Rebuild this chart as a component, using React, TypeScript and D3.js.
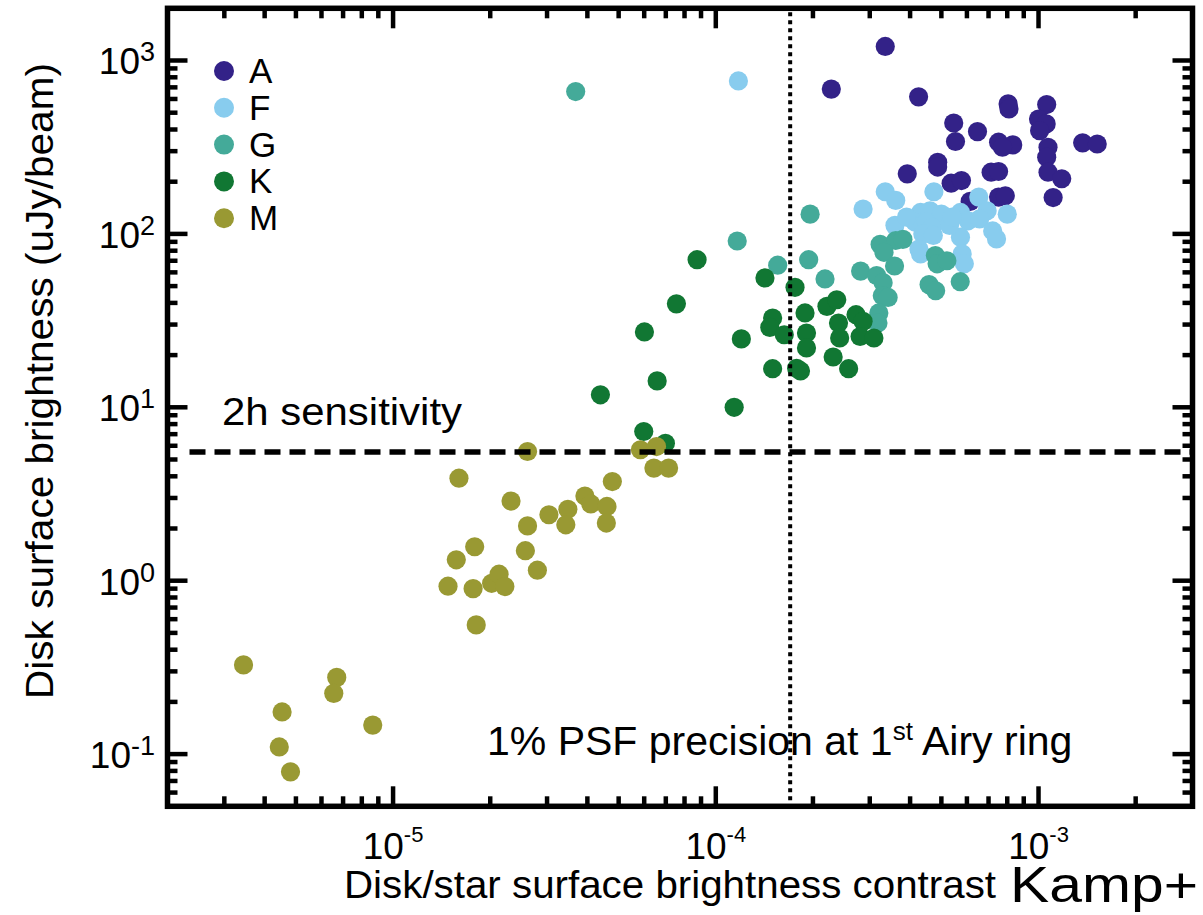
import React from "react";
import * as d3 from "d3";

type Pt = [number, number];

const seriesNames = ["A", "F", "G", "K", "M"];
const seriesColors = ["#332288", "#88CCEE", "#44AA99", "#117733", "#999933"];

const pointsA: Pt[] = [
  [3.35e-4, 1205], [2.28e-4, 684], [4.25e-4, 617], [8.05e-4, 562], [8.1e-4, 526],
  [1.06e-3, 557], [1.0e-3, 460], [1.056e-3, 431], [1.008e-3, 394], [5.46e-4, 436],
  [6.47e-4, 389], [5.53e-4, 341], [7.52e-4, 338], [8.32e-4, 326], [7.73e-4, 316],
  [1.37e-3, 335], [1.52e-3, 330], [1.07e-3, 316], [1.06e-3, 277], [4.87e-4, 259],
  [4.87e-4, 243], [3.92e-4, 222], [1.07e-3, 227], [1.18e-3, 208], [7.13e-4, 227],
  [7.52e-4, 229], [5.36e-4, 196], [5.77e-4, 203], [1.11e-3, 162], [7.52e-4, 163],
  [7.89e-4, 166], [6.14e-4, 154],
];

const pointsF: Pt[] = [
  [1.175e-4, 762], [3.35e-4, 175], [3.61e-4, 156], [2.86e-4, 139], [4.74e-4, 175],
  [6.53e-4, 163], [4.31e-4, 133], [4.61e-4, 136], [5.0e-4, 130], [5.73e-4, 133],
  [6.93e-4, 136], [8.0e-4, 130], [4.14e-4, 117], [4.49e-4, 117], [6.05e-4, 119],
  [6.57e-4, 122], [3.59e-4, 112], [4.68e-4, 109], [4.38e-4, 100], [4.72e-4, 98],
  [5.73e-4, 95.7], [7.21e-4, 104], [7.41e-4, 93.6], [4.26e-4, 81.8], [4.31e-4, 76.7],
  [5.8e-4, 76.7], [5.89e-4, 67.2], [3.9e-4, 125], [5.3e-4, 112], [5.4e-4, 125],
];

const pointsG: Pt[] = [
  [3.68e-5, 662], [1.96e-4, 130], [1.165e-4, 91], [1.555e-4, 66], [1.94e-4, 71],
  [2.18e-4, 55], [2.81e-4, 61], [3.23e-4, 87], [3.61e-4, 91.6], [3.8e-4, 93],
  [3.32e-4, 78.3], [3.58e-4, 65.3], [3.15e-4, 57.5], [3.3e-4, 52.3], [3.28e-4, 44],
  [3.42e-4, 43], [3.2e-4, 35], [3.18e-4, 30.6], [4.79e-4, 75], [4.85e-4, 67.2],
  [5.2e-4, 70], [4.58e-4, 51], [4.8e-4, 47], [5.72e-4, 53],
];

const pointsK: Pt[] = [
  [8.75e-5, 71], [1.42e-4, 55.7], [1.76e-4, 49.2], [7.55e-5, 39.5], [2.21e-4, 38.2],
  [2.37e-4, 41.7], [1.89e-4, 35], [2.72e-4, 34.2], [2.86e-4, 31.3], [2.4e-4, 30.6],
  [1.5e-4, 32.7], [1.47e-4, 28.9], [1.63e-4, 26.2], [1.91e-4, 26.8], [1.91e-4, 22],
  [2.42e-4, 25.1], [2.8e-4, 25.6], [3.09e-4, 25.1], [6.01e-5, 27.2], [1.2e-4, 24.8],
  [2.31e-4, 19.5], [1.5e-4, 16.7], [1.78e-4, 16.8], [1.83e-4, 16.2], [2.58e-4, 16.7],
  [6.58e-5, 14.2], [4.39e-5, 11.8], [1.14e-4, 10], [5.98e-5, 7.25], [6.98e-5, 6.2],
];

const pointsM: Pt[] = [
  [2.61e-5, 5.56], [1.6e-5, 3.9], [5.84e-5, 5.69], [6.55e-5, 5.94], [6.43e-5, 4.46],
  [7.14e-5, 4.46], [4.78e-5, 3.73], [2.32e-5, 2.88], [3.93e-5, 3.08], [4.1e-5, 2.77],
  [4.6e-5, 2.68], [4.58e-5, 2.15], [3.48e-5, 2.58], [3.43e-5, 2.1], [3.04e-5, 2.4],
  [2.61e-5, 2.07], [2.57e-5, 1.49], [2.8e-5, 1.15], [1.79e-5, 1.57], [1.57e-5, 1.32],
  [1.48e-5, 0.93], [1.77e-5, 0.9], [2.02e-5, 0.966], [2.13e-5, 1.09], [2.22e-5, 0.925],
  [1.81e-5, 0.556], [3.44e-6, 0.327], [6.69e-6, 0.277], [6.55e-6, 0.224], [4.53e-6, 0.175],
  [8.65e-6, 0.147], [4.44e-6, 0.11], [4.81e-6, 0.079],
];

const seriesPoints = [pointsA, pointsF, pointsG, pointsK, pointsM];

const xMajorTicks = [1e-5, 1e-4, 1e-3];
const xMajorExp = ["-5", "-4", "-3"];
const yMajorTicks = [0.1, 1, 10, 100, 1000];
const yMajorExp = ["-1", "0", "1", "2", "3"];

const xDomain: [number, number] = [2e-6, 3e-3];
const yDomain: [number, number] = [0.05, 2000];

const sensitivityLevel = 5.53;
const psfContrast = 1.7e-4;

const xTitle = "Disk/star surface brightness contrast";
const yTitle = "Disk surface brightness (uJy/beam)";
const credit = "Kamp+";
const sensLabel = "2h sensitivity";

const FONT = "'Liberation Sans', Arial, Helvetica, sans-serif";

export default function App() {
  const W = 1203;
  const H = 915;
  const L = 167.5, R = 1192.5, T = 8.3, B = 806.3;
  const x = d3.scaleLog().domain(xDomain).range([L, R]);
  const y = d3.scaleLog().domain(yDomain).range([B, T]);

  const isMajor = (v: number) => Math.abs(Math.log10(v) - Math.round(Math.log10(v))) < 1e-9;
  const xt = x.ticks().filter((v) => x(v) > L + 1 && x(v) < R - 1);
  const yt = y.ticks().filter((v) => y(v) > T + 1 && y(v) < B - 1);
  const tw = 4.5;
  const maj = 20, mnr = 10;

  return (
    <svg width={W} height={H} style={{ position: "absolute", left: 0, top: 0, background: "#fff" }} fontFamily={FONT}>
      <rect x={0} y={0} width={W} height={H} fill="#fff" />
      {seriesPoints.map((pts, si) => (
        <g key={seriesNames[si]} fill={seriesColors[si]}>
          {pts.map((p, i) => (
            <circle key={i} cx={x(p[0])} cy={y(p[1])} r={9.6} />
          ))}
        </g>
      ))}
      <line x1={x(psfContrast)} x2={x(psfContrast)} y1={T + 4} y2={B - 4} stroke="#000" strokeWidth={4} strokeDasharray="4 4" />
      <line x1={L + 22} x2={R} y1={y(sensitivityLevel)} y2={y(sensitivityLevel)} stroke="#000" strokeWidth={5.5} strokeDasharray="16 9" />
      <g stroke="#000" strokeWidth={tw}>
        {xt.map((v, i) => {
          const len = isMajor(v) ? maj : mnr;
          return (
            <g key={"x" + i}>
              <line x1={x(v)} x2={x(v)} y1={B} y2={B - len} />
              <line x1={x(v)} x2={x(v)} y1={T} y2={T + len} />
            </g>
          );
        })}
        {yt.map((v, i) => {
          const len = isMajor(v) ? maj : mnr;
          return (
            <g key={"y" + i}>
              <line x1={L} x2={L + len} y1={y(v)} y2={y(v)} />
              <line x1={R} x2={R - len} y1={y(v)} y2={y(v)} />
            </g>
          );
        })}
      </g>
      <rect x={L} y={T} width={R - L} height={B - T} fill="none" stroke="#000" strokeWidth={5.5} />
      {xMajorTicks.map((v, i) => (
        <text key={"xl" + i} x={x(v)} y={859} textAnchor="middle" fontSize={37} fill="#000">
          <tspan>10</tspan>
          <tspan dy={-17} fontSize={22}>{xMajorExp[i]}</tspan>
        </text>
      ))}
      {yMajorTicks.map((v, i) => (
        <text key={"yl" + i} x={155} y={y(v) + 14} textAnchor="end" fontSize={37} fill="#000">
          <tspan>10</tspan>
          <tspan dy={-13} fontSize={27}>{yMajorExp[i]}</tspan>
        </text>
      ))}
      <text x={344} y={898} fontSize={38} textLength={652} lengthAdjust="spacingAndGlyphs" fill="#000">{xTitle}</text>
      <text x={1010} y={902} fontSize={50} textLength={188} lengthAdjust="spacingAndGlyphs" fill="#000">{credit}</text>
      <text transform={`translate(53, ${381}) rotate(-90)`} textAnchor="middle" fontSize={39} textLength={636} lengthAdjust="spacingAndGlyphs" fill="#000">{yTitle}</text>
      <text x={222} y={425} fontSize={38} textLength={240} lengthAdjust="spacingAndGlyphs" fill="#000">{sensLabel}</text>
      <text x={487} y={755} fontSize={41} fill="#000">
        <tspan>1% PSF precision at 1</tspan>
        <tspan dy={-15} fontSize={26}>st</tspan>
        <tspan dy={15}> Airy ring</tspan>
      </text>
      {seriesNames.map((n, i) => (
        <g key={"lg" + n}>
          <circle cx={224} cy={71 + i * 36.8} r={10} fill={seriesColors[i]} />
          <text x={249} y={71 + i * 36.8 + 12} fontSize={35} fill="#000">{n}</text>
        </g>
      ))}
    </svg>
  );
}
